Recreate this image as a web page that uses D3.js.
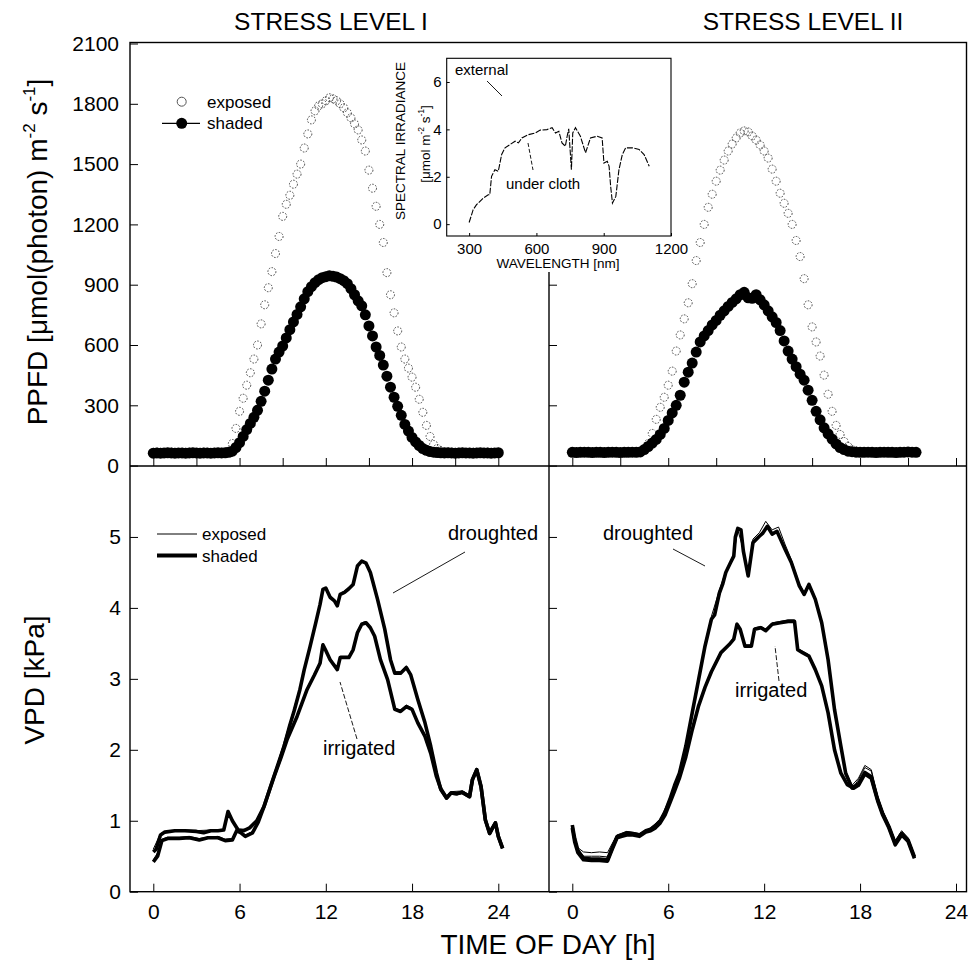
<!DOCTYPE html>
<html lang="en">
<head>
<meta charset="UTF-8">
<title>PPFD and VPD</title>
<script src="https://d3js.org/d3.v7.min.js"></script>
<style>
  body { margin: 0; background: #fff; }
  svg { font-family: "Liberation Sans", Arial, sans-serif; }
  .tick line { stroke: #000; stroke-width: 1px; }
  .tick text { fill: #000; }
</style>
</head>
<body>
<svg width="968" height="967"></svg>
<script>
// PPFD readings every 15 min, umol m-2 s-1
const STEP = 0.25;
const ppfdL_shaded = [62,63,62,63,64,63,62,63,63,62,63,64,63,62,63,63,62,63,64,63,64,
  66,72,90,114,145,179,210,240,275,320,370,425,480,530,565,595,635,676,715,752,790,830,865,890,910,925,935,940,
  945,942,938,930,920,905,880,850,820,795,750,695,645,590,548,500,445,390,340,295,250,205,172,140,118,100,85,76,70,67,
  65,64,63,64,63,62,63,64,63,63,62,63,64,63,63,62,63,64];
const ppfdL_exposed = [66,67,66,65,66,67,66,65,66,66,67,66,65,66,67,66,65,66,66,67,68,
  72,110,185,270,335,400,462,530,600,705,800,885,965,1055,1140,1240,1300,1345,1400,1450,1500,1580,1650,1720,1765,1790,1800,1815,
  1830,1825,1815,1800,1780,1755,1730,1700,1670,1620,1565,1470,1380,1290,1200,1110,960,850,760,670,590,530,485,440,390,330,265,200,145,105,
  85,75,70,68,67,66,67,66,65,66,67,66,65,66,67,66,65,66];
const ppfdR_shaded = [66,65,66,67,66,65,66,66,65,66,67,66,65,66,66,67,66,68,
  80,95,112,130,155,185,225,262,300,350,415,465,510,565,615,645,672,700,722,748,770,792,812,830,850,862,835,832,850,825,
  800,770,740,712,672,620,570,530,492,455,425,375,325,270,228,188,158,132,108,90,80,72,69,
  67,66,66,67,66,65,66,67,66,66,65,66,67,68,67,66];
const ppfdR_exposed = [68,69,68,67,68,69,68,67,68,68,69,68,67,68,69,68,70,
  72,82,110,160,230,290,340,400,470,570,650,730,810,905,1020,1110,1200,1285,1350,1415,1470,1520,1565,1600,1630,1655,1665,1660,
  1640,1620,1595,1565,1530,1475,1415,1355,1305,1255,1200,1120,1040,930,800,690,615,545,450,355,270,200,155,120,95,80,74,70,
  69,68,68,69,68,67,68,69,68,68,67,68,69,68];

// VPD [h, kPa]
const vpdL_droughtShaded = [[0,0.56],[0.2,0.6],[0.5,0.8],[0.8,0.84],[1.5,0.86],[2.2,0.86],[3,0.85],[3.5,0.83],[4,0.86],[4.5,0.86],[4.9,0.87],[5.2,1.13],[5.5,1.0],[5.9,0.87],[6.3,0.86],[6.7,0.9],[7.2,1.0],[7.7,1.2],[8.15,1.48],[8.6,1.75],[9.1,2.05],[9.5,2.35],[9.8,2.55],[10.2,2.85],[10.5,3.13],[10.9,3.45],[11.3,3.79],[11.6,4.05],[11.8,4.26],[12.0,4.28],[12.3,4.15],[12.6,4.1],[12.8,4.03],[13.0,4.19],[13.3,4.22],[13.6,4.27],[13.9,4.33],[14.2,4.59],[14.5,4.66],[14.8,4.63],[15.1,4.5],[15.6,4.12],[16.1,3.70],[16.5,3.27],[16.8,3.08],[17.2,3.08],[17.6,3.16],[17.9,3.06],[18.4,2.71],[18.9,2.38],[19.3,2.05],[19.7,1.67],[20.0,1.44],[20.4,1.32],[20.7,1.39],[21.1,1.38],[21.5,1.40],[22.0,1.34],[22.2,1.58],[22.5,1.72],[22.8,1.48],[23.1,1.01],[23.4,0.82],[23.6,0.9],[23.8,0.97],[24.0,0.78],[24.3,0.61]];
const vpdL_droughtExposed = [[0,0.6],[0.5,0.82],[1,0.86],[2,0.87],[3,0.86],[4,0.87],[4.9,0.88],[5.2,1.12],[5.6,0.95],[6,0.88],[6.5,0.88],[7,0.95],[7.7,1.22],[8.6,1.78],[9.5,2.38],[10.2,2.88],[10.9,3.48],[11.3,3.8],[11.8,4.27],[12.0,4.27],[12.3,4.14],[12.8,4.05],[13.0,4.2],[13.6,4.28],[13.9,4.35],[14.2,4.6],[14.5,4.67],[14.8,4.62],[15.1,4.52],[15.6,4.15],[16.1,3.72],[16.5,3.3],[16.8,3.1],[17.2,3.1],[17.6,3.18],[17.9,3.08],[18.4,2.73],[18.9,2.4],[19.3,2.08],[19.7,1.7],[20.0,1.46],[20.4,1.34],[20.7,1.41],[21.5,1.42],[22.0,1.36],[22.2,1.6],[22.5,1.74],[22.8,1.5],[23.1,1.03],[23.4,0.84],[23.8,0.99],[24.0,0.8],[24.3,0.63]];
const vpdL_irrigShaded = [[0,0.42],[0.3,0.5],[0.6,0.72],[1.0,0.75],[1.8,0.75],[2.5,0.76],[3.2,0.73],[3.8,0.76],[4.5,0.76],[5.0,0.72],[5.5,0.73],[5.8,0.86],[6.1,0.83],[6.4,0.78],[6.9,0.83],[7.3,0.98],[7.7,1.2],[8.4,1.62],[8.9,1.9],[9.3,2.14],[10.0,2.47],[10.7,2.85],[11.2,3.05],[11.6,3.22],[11.8,3.48],[12.0,3.4],[12.3,3.27],[12.8,3.13],[13.0,3.30],[13.3,3.3],[13.6,3.30],[13.9,3.41],[14.2,3.65],[14.5,3.77],[14.8,3.79],[15.1,3.72],[15.4,3.6],[15.8,3.27],[16.3,2.99],[16.8,2.57],[17.2,2.54],[17.6,2.61],[18.0,2.57],[18.4,2.38],[18.9,2.19],[19.3,1.95],[19.7,1.62],[20.0,1.45],[20.4,1.32],[20.7,1.39],[21.1,1.38],[21.5,1.40],[22.0,1.34],[22.2,1.58],[22.5,1.72],[22.8,1.48],[23.1,1.01],[23.4,0.82],[23.6,0.9],[23.8,0.97],[24.0,0.78],[24.3,0.61]];
const vpdL_irrigExposed = [[0,0.45],[0.3,0.55],[0.6,0.74],[1.0,0.77],[1.8,0.77],[2.5,0.78],[3.2,0.75],[3.8,0.77],[4.5,0.78],[5.0,0.74],[5.5,0.75],[5.8,0.87],[6.1,0.85],[6.4,0.8],[6.9,0.85],[7.3,1.0],[7.7,1.22],[8.4,1.64],[8.9,1.92],[9.3,2.16],[10.0,2.49],[10.7,2.87],[11.2,3.07],[11.6,3.24],[11.8,3.5],[12.0,3.42],[12.3,3.29],[12.8,3.15],[13.0,3.32],[13.6,3.32],[13.9,3.43],[14.2,3.67],[14.5,3.79],[14.8,3.81],[15.1,3.74],[15.4,3.62],[15.8,3.29],[16.3,3.01],[16.8,2.59],[17.2,2.56],[17.6,2.63],[18.0,2.59],[18.4,2.4],[18.9,2.21],[19.3,1.97],[19.7,1.64],[20.0,1.47],[20.4,1.34]];
const vpdR_droughtShaded = [[0,0.94],[0.15,0.75],[0.35,0.58],[0.7,0.47],[1.2,0.46],[1.7,0.46],[2.2,0.45],[2.5,0.62],[2.8,0.78],[3.1,0.80],[3.4,0.83],[3.8,0.82],[4.2,0.80],[4.6,0.86],[4.9,0.88],[5.2,0.93],[5.5,1.0],[5.8,1.12],[6.1,1.30],[6.4,1.5],[6.7,1.67],[7.1,2.05],[7.5,2.52],[7.9,2.99],[8.3,3.46],[8.7,3.84],[8.9,3.9],[9.2,4.21],[9.4,4.33],[9.6,4.50],[9.9,4.64],[10.1,4.73],[10.2,5.0],[10.35,5.12],[10.55,5.1],[10.7,4.8],[11.0,4.45],[11.3,4.92],[11.7,5.01],[11.9,5.05],[12.2,5.15],[12.5,5.04],[12.8,5.08],[13.0,4.98],[13.3,4.83],[13.7,4.64],[14.2,4.31],[14.5,4.19],[14.8,4.33],[15.2,4.12],[15.6,3.79],[16.0,3.27],[16.4,2.57],[16.8,2.05],[17.1,1.67],[17.5,1.46],[17.9,1.52],[18.3,1.68],[18.7,1.62],[19.1,1.3],[19.4,1.11],[19.8,0.92],[20.2,0.68],[20.6,0.82],[21.0,0.73],[21.4,0.49]];
const vpdR_droughtExposed = [[0,0.9],[0.35,0.62],[0.7,0.56],[1.2,0.55],[1.7,0.56],[2.2,0.55],[2.5,0.68],[2.8,0.8],[3.4,0.85],[4.2,0.82],[4.9,0.9],[5.5,1.02],[6.1,1.32],[6.7,1.7],[7.1,2.08],[7.5,2.55],[7.9,3.02],[8.3,3.5],[8.7,3.88],[9.2,4.25],[9.6,4.52],[10.1,4.75],[10.35,5.1],[10.7,4.82],[11.0,4.5],[11.3,4.97],[11.7,5.06],[12.1,5.22],[12.5,5.1],[12.9,5.14],[13.3,4.9],[13.7,4.68],[14.2,4.34],[14.5,4.22],[14.8,4.35],[15.2,4.15],[15.6,3.82],[16.0,3.3],[16.4,2.6],[16.8,2.08],[17.1,1.7],[17.5,1.5],[17.9,1.6],[18.3,1.78],[18.7,1.72],[19.1,1.35],[19.4,1.15],[19.8,0.95],[20.2,0.72],[20.6,0.86],[21.0,0.76],[21.4,0.52]];
const vpdR_irrigShaded = [[0,0.9],[0.15,0.7],[0.35,0.55],[0.7,0.45],[1.2,0.44],[1.7,0.44],[2.2,0.43],[2.5,0.6],[2.8,0.76],[3.1,0.78],[3.4,0.8],[3.8,0.8],[4.2,0.78],[4.6,0.84],[4.9,0.86],[5.2,0.9],[5.5,0.97],[5.8,1.08],[6.1,1.25],[6.4,1.42],[6.7,1.6],[7.1,1.9],[7.5,2.28],[7.9,2.62],[8.3,2.88],[8.7,3.1],[9.3,3.37],[9.8,3.48],[10.1,3.56],[10.3,3.77],[10.5,3.70],[10.8,3.46],[11.2,3.46],[11.4,3.70],[11.8,3.72],[12.1,3.68],[12.5,3.77],[13.0,3.79],[13.5,3.81],[13.9,3.81],[14.1,3.41],[14.4,3.37],[14.8,3.32],[15.2,3.13],[15.6,2.90],[16.0,2.52],[16.4,2.00],[16.8,1.67],[17.2,1.51],[17.6,1.46],[17.9,1.5],[18.3,1.66],[18.7,1.6],[19.1,1.28],[19.4,1.09],[19.8,0.9],[20.2,0.66],[20.6,0.8],[21.0,0.71],[21.4,0.47]];
const vpdR_irrigExposed = [[0,0.88],[0.35,0.6],[0.7,0.5],[1.2,0.5],[1.7,0.5],[2.2,0.49],[2.5,0.64],[2.8,0.78],[3.4,0.82],[4.2,0.8],[4.9,0.88],[5.5,0.99],[6.1,1.27],[6.7,1.62],[7.1,1.92],[7.5,2.3],[7.9,2.64],[8.3,2.9],[8.7,3.12],[9.3,3.39],[9.8,3.5],[10.1,3.58],[10.3,3.79],[10.5,3.72],[10.8,3.48],[11.2,3.48],[11.4,3.72],[11.8,3.74],[12.1,3.7],[12.5,3.79],[13.0,3.81],[13.5,3.83],[13.9,3.83],[14.1,3.43],[14.4,3.39],[14.8,3.34],[15.2,3.15],[15.6,2.92],[16.0,2.54],[16.4,2.02],[16.8,1.69],[17.2,1.53],[17.6,1.48],[17.9,1.58],[18.3,1.75],[18.7,1.7],[19.1,1.33],[19.4,1.13],[19.8,0.93],[20.2,0.7],[20.6,0.84],[21.0,0.74],[21.4,0.5]];

// inset: spectral irradiance under cloth [nm, umol m-2 s-1]
const specWl = [300,318,333,363,385,392,400,415,430,445,460,482,505,520,535,565,595,617,647,670,685,700,714,729,737,744,756,762,774,796,819,841,871,893,901,916,924,931,939,954,968,983,998,1028,1058,1080,1103];
const specIrr = [0.07,0.61,0.82,1.10,1.24,1.24,2.02,2.30,2.23,2.94,3.22,3.36,3.50,3.43,3.64,3.78,3.85,3.97,3.99,4.07,3.85,3.92,3.43,3.29,3.71,4.02,2.30,3.85,4.07,3.71,3.01,3.64,3.71,3.64,2.58,2.65,2.44,1.59,0.89,1.17,2.30,2.94,3.22,3.22,3.15,2.94,2.44];

const hourTicks = [0,3,6,9,12,15,18,21,24];
const hourLabels = [0,6,12,18,24];
const ppfdTicks = [0,300,600,900,1200,1500,1800,2100];
const vpdTicks = [0,1,2,3,4,5];

const svg = d3.select("svg");
const font = 21;
const fmt = d3.format("d");

// frame geometry
const L = 130, R = 966.5, T = 42.5, M = 466, B = 891.7, D = 549;

const xL = d3.scaleLinear().domain([0, 24]).range([153.3, 498.3]);
const xR = d3.scaleLinear().domain([0, 24]).range([572.3, 956]);
const yTop = d3.scaleLinear().domain([0, 2100]).range([465.6, 43.5]);
const yBot = d3.scaleLinear().domain([0, 6]).range([B, M]);

// titles
svg.append("text").attr("x", 331).attr("y", 30).attr("text-anchor", "middle")
  .attr("font-size", 24.5).text("STRESS LEVEL I");
svg.append("text").attr("x", 803).attr("y", 30).attr("text-anchor", "middle")
  .attr("font-size", 24.5).text("STRESS LEVEL II");

// axes
function noDomain(g) { g.select(".domain").remove(); }

svg.append("g").attr("transform", `translate(${L},0)`)
  .call(d3.axisLeft(yTop).tickValues(ppfdTicks).tickSize(-8).tickPadding(11).tickFormat(fmt))
  .call(noDomain).attr("font-size", font).attr("font-family", null);
svg.append("g").attr("transform", `translate(${L},0)`)
  .call(d3.axisLeft(yBot).tickValues(vpdTicks).tickSize(-8).tickPadding(9).tickFormat(fmt))
  .call(noDomain).attr("font-size", font).attr("font-family", null);
svg.append("g").attr("transform", `translate(${D},0)`)
  .call(d3.axisLeft(yTop).tickValues([0, 300, 600, 900]).tickSize(-8).tickFormat(""))
  .call(noDomain);
svg.append("g").attr("transform", `translate(${D},0)`)
  .call(d3.axisLeft(yBot).tickValues(vpdTicks).tickSize(-8).tickFormat(""))
  .call(noDomain);

[xL, xR].forEach(x => {
  svg.append("g").attr("transform", `translate(0,${M})`)
    .call(d3.axisBottom(x).tickValues(hourTicks).tickSize(-8).tickFormat(""))
    .call(noDomain);
  svg.append("g").attr("transform", `translate(0,${B})`)
    .call(d3.axisBottom(x).tickValues(hourLabels).tickSize(-8).tickPadding(12).tickFormat(fmt))
    .call(noDomain).attr("font-size", font).attr("font-family", null);
});

// frame
svg.append("rect").attr("x", L).attr("y", T).attr("width", R - L).attr("height", B - T)
  .attr("fill", "none").attr("stroke", "#000").attr("stroke-width", 1.4);
svg.append("line").attr("x1", L).attr("x2", R).attr("y1", M).attr("y2", M)
  .attr("stroke", "#000").attr("stroke-width", 1.4);
svg.append("line").attr("x1", D).attr("x2", D).attr("y1", 272).attr("y2", B)
  .attr("stroke", "#000").attr("stroke-width", 1.4);

// axis titles (superscripts as raised, smaller tspans)
const ppfdTitle = svg.append("text").attr("transform", "translate(47,252) rotate(-90)")
  .attr("text-anchor", "middle").attr("font-size", 28);
ppfdTitle.append("tspan").text("PPFD [\u03bcmol(photon) m");
ppfdTitle.append("tspan").attr("font-size", 17).attr("dy", -12).text("-2");
ppfdTitle.append("tspan").attr("dy", 12).text(" s");
ppfdTitle.append("tspan").attr("font-size", 17).attr("dy", -12).text("-1");
ppfdTitle.append("tspan").attr("dy", 12).text("]");

svg.append("text").attr("transform", "translate(44,680) rotate(-90)")
  .attr("text-anchor", "middle").attr("font-size", 28).text("VPD [kPa]");
svg.append("text").attr("x", 548).attr("y", 954).attr("text-anchor", "middle")
  .attr("font-size", 28).text("TIME OF DAY [h]");

// PPFD points
function ppfdPoints(vals) {
  return vals.map((v, i) => ({h: i * STEP, v: v}));
}
function drawExposed(vals, x) {
  svg.append("g").selectAll("circle").data(ppfdPoints(vals)).join("circle")
    .attr("cx", d => x(d.h)).attr("cy", d => yTop(d.v)).attr("r", 4)
    .attr("fill", "none").attr("stroke", "#333").attr("stroke-width", 0.9)
    .attr("stroke-dasharray", "1.6,1.4");
}
function drawShaded(vals, x) {
  svg.append("g").selectAll("circle").data(ppfdPoints(vals)).join("circle")
    .attr("cx", d => x(d.h)).attr("cy", d => yTop(d.v)).attr("r", 5.5)
    .attr("fill", "#000");
}
drawExposed(ppfdL_exposed, xL);
drawShaded(ppfdL_shaded, xL);
drawExposed(ppfdR_exposed, xR);
drawShaded(ppfdR_shaded, xR);

// VPD lines
function drawLine(data, x, w) {
  const line = d3.line().x(d => x(d[0])).y(d => yBot(d[1]));
  svg.append("path").datum(data).attr("d", line).attr("fill", "none")
    .attr("stroke", "#000").attr("stroke-width", w).attr("stroke-linejoin", "round");
}
drawLine(vpdL_droughtShaded, xL, 3.6);
drawLine(vpdL_irrigShaded, xL, 3.6);
drawLine(vpdL_droughtExposed, xL, 1);
drawLine(vpdL_irrigExposed, xL, 1);
drawLine(vpdR_droughtShaded, xR, 3.6);
drawLine(vpdR_irrigShaded, xR, 3.6);
drawLine(vpdR_droughtExposed, xR, 1);
drawLine(vpdR_irrigExposed, xR, 1);

// legends
const lg = svg.append("g").attr("font-size", 17);
lg.append("circle").attr("cx", 181.7).attr("cy", 101.7).attr("r", 4.5).attr("fill", "none")
  .attr("stroke", "#555").attr("stroke-width", 1);
lg.append("text").attr("x", 207).attr("y", 107.5).text("exposed");
lg.append("line").attr("x1", 162).attr("x2", 200).attr("y1", 123.3).attr("y2", 123.3)
  .attr("stroke", "#000").attr("stroke-width", 1.2);
lg.append("circle").attr("cx", 181.7).attr("cy", 123.3).attr("r", 5.5).attr("fill", "#000");
lg.append("text").attr("x", 207).attr("y", 129).text("shaded");

lg.append("line").attr("x1", 157).attr("x2", 197).attr("y1", 534).attr("y2", 534)
  .attr("stroke", "#000").attr("stroke-width", 1);
lg.append("text").attr("x", 202).attr("y", 540).text("exposed");
lg.append("line").attr("x1", 157).attr("x2", 197).attr("y1", 555.5).attr("y2", 555.5)
  .attr("stroke", "#000").attr("stroke-width", 4);
lg.append("text").attr("x", 202).attr("y", 561.5).text("shaded");

// annotations
const an = svg.append("g").attr("font-size", 20);
function note(txt, x, y, x1, y1, x2, y2, dash) {
  an.append("text").attr("x", x).attr("y", y).text(txt);
  an.append("line").attr("x1", x1).attr("y1", y1).attr("x2", x2).attr("y2", y2)
    .attr("stroke", "#000").attr("stroke-width", 0.9).attr("stroke-dasharray", dash || null);
}
note("droughted", 448, 540, 465, 552, 393, 593);
note("irrigated", 323, 755, 357, 739, 340, 682, "5,2");
note("droughted", 603, 540, 673, 549, 705, 566);
note("irrigated", 735, 697, 779, 681, 775, 646, "5,2");

// inset
const xI = d3.scaleLinear().domain([200, 1200]).range([446.7, 671]);
const yI = d3.scaleLinear().domain([-0.5, 7]).range([236, 58.3]);
const inset = svg.append("g");
inset.append("g").attr("transform", "translate(446.7,0)")
  .call(d3.axisLeft(yI).tickValues([0, 2, 4, 6]).tickSize(-3).tickPadding(5).tickFormat(fmt))
  .call(noDomain).attr("font-size", 15).attr("font-family", null);
inset.append("g").attr("transform", "translate(0,236)")
  .call(d3.axisBottom(xI).tickValues([300, 600, 900, 1200]).tickSize(-3).tickPadding(7).tickFormat(fmt))
  .call(noDomain).attr("font-size", 15).attr("font-family", null);
inset.append("rect").attr("x", 446.7).attr("y", 58.3).attr("width", 224.3).attr("height", 177.7)
  .attr("fill", "none").attr("stroke", "#000").attr("stroke-width", 1.1);
const specLine = d3.line().x((d, i) => xI(specWl[i])).y(d => yI(d));
inset.append("path").datum(specIrr).attr("d", specLine).attr("fill", "none")
  .attr("stroke", "#000").attr("stroke-width", 1.1).attr("stroke-dasharray", "6,1.5");
inset.append("text").attr("x", 455).attr("y", 75).attr("font-size", 15).text("external");
inset.append("line").attr("x1", 487).attr("y1", 81).attr("x2", 502).attr("y2", 96)
  .attr("stroke", "#000").attr("stroke-width", 0.9);
inset.append("text").attr("x", 506).attr("y", 189).attr("font-size", 15).text("under cloth");
inset.append("line").attr("x1", 528).attr("y1", 143).attr("x2", 533).attr("y2", 170)
  .attr("stroke", "#000").attr("stroke-width", 0.9).attr("stroke-dasharray", "4,2");
inset.append("text").attr("x", 558).attr("y", 268).attr("text-anchor", "middle")
  .attr("font-size", 13.5).text("WAVELENGTH [nm]");
inset.append("text").attr("transform", "translate(405,141) rotate(-90)")
  .attr("text-anchor", "middle").attr("font-size", 13.5).text("SPECTRAL IRRADIANCE");
const specTitle = inset.append("text").attr("transform", "translate(430,144) rotate(-90)")
  .attr("text-anchor", "middle").attr("font-size", 13.5);
specTitle.append("tspan").text("[\u03bcmol m");
specTitle.append("tspan").attr("font-size", 8.5).attr("dy", -6).text("-2");
specTitle.append("tspan").attr("dy", 6).text(" s");
specTitle.append("tspan").attr("font-size", 8.5).attr("dy", -6).text("-1");
specTitle.append("tspan").attr("dy", 6).text("]");
</script>
</body>
</html>
